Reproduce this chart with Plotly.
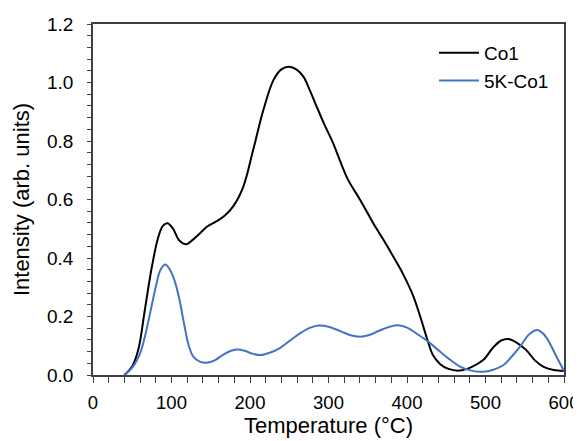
import plotly.graph_objects as go

co1_t = [40, 50, 58, 66, 75, 83, 89, 95, 102, 110, 118.5, 127, 136, 145, 157, 168, 179, 191.5, 204,
         217, 230, 240, 250, 259, 268, 276, 285, 295, 306, 315, 325, 340, 357, 370, 382.5, 395, 408,
         418, 426, 433, 442, 452, 467, 482, 497, 510, 520, 529, 540, 552, 563, 574, 587, 600]
co1_v = [0.0, 0.03, 0.09, 0.222, 0.37, 0.47, 0.51, 0.519, 0.50, 0.46, 0.447, 0.462, 0.484, 0.507,
         0.525, 0.545, 0.578, 0.644, 0.769, 0.906, 1.009, 1.045, 1.054, 1.045, 1.02, 0.975, 0.917,
         0.855, 0.792, 0.73, 0.667, 0.60, 0.519, 0.462, 0.405, 0.345, 0.27, 0.19, 0.12, 0.068, 0.038,
         0.022, 0.015, 0.027, 0.051, 0.095, 0.118, 0.123, 0.11, 0.085, 0.05, 0.028, 0.017, 0.014]

k5_t = [40, 50, 60, 66, 73, 80, 86, 92, 98, 104, 110, 116, 122, 128, 136, 145, 155, 165, 175, 183,
        193, 203, 213, 225, 238, 251, 264, 277, 288, 300, 315, 328, 340, 352, 365, 378, 389, 400, 412,
        427, 442, 455, 467.5, 482, 497, 510, 523, 534, 544, 556, 566, 574, 582, 590, 600]
k5_v = [0.0, 0.025, 0.074, 0.13, 0.215, 0.302, 0.36, 0.378, 0.36, 0.322, 0.26, 0.175, 0.10, 0.062,
        0.046, 0.042, 0.05, 0.068, 0.082, 0.087, 0.083, 0.073, 0.068, 0.076, 0.092, 0.118, 0.143,
        0.162, 0.169, 0.165, 0.15, 0.136, 0.131, 0.137, 0.152, 0.165, 0.17, 0.162, 0.142, 0.114,
        0.08, 0.052, 0.029, 0.015, 0.011, 0.018, 0.034, 0.065, 0.097, 0.14, 0.154, 0.14, 0.108,
        0.065, 0.014]

x_ticks = [0, 100, 200, 300, 400, 500, 600]
y_ticks = [0.0, 0.2, 0.4, 0.6, 0.8, 1.0, 1.2]

FONT = "Liberation Sans, Arial, sans-serif"
AX = "#404040"

fig = go.Figure()
fig.add_trace(go.Scatter(x=co1_t, y=co1_v, mode="lines", name="Co1",
                         line=dict(color="black", width=2, shape="spline", smoothing=1.0)))
fig.add_trace(go.Scatter(x=k5_t, y=k5_v, mode="lines", name="5K-Co1",
                         line=dict(color="#4472C4", width=2, shape="spline", smoothing=1.0)))

# the page body keeps its default 8px margin, so the figure is 8px smaller and margins shifted
fig.update_layout(
    width=573, height=433,
    margin=dict(l=85, r=17, t=16, b=66),
    paper_bgcolor="white", plot_bgcolor="white",
    font=dict(family=FONT, size=19, color="black"),
    showlegend=True,
    legend=dict(x=0.724, y=0.972, xanchor="left", yanchor="top", bgcolor="rgba(0,0,0,0)",
                font=dict(size=19), tracegroupgap=0, itemwidth=40),
    xaxis=dict(range=[0, 600], tickvals=x_ticks, ticktext=[str(v) for v in x_ticks],
               showgrid=False, zeroline=False, showline=True, linecolor=AX, linewidth=1.5,
               mirror=True, ticks="outside", ticklen=6, tickcolor=AX, automargin=False,
               minor=dict(dtick=20, ticks="outside", ticklen=6, tickcolor=AX),
               ticklabelstandoff=4,
               title=dict(text="Temperature (°C)", font=dict(size=22), standoff=6),
               tickfont=dict(size=18.5)),
    yaxis=dict(range=[0, 1.2], tickvals=y_ticks, ticktext=[f"{v:.1f}" for v in y_ticks],
               showgrid=False, zeroline=False, showline=True, linecolor=AX, linewidth=1.5,
               mirror=True, ticks="outside", ticklen=4, tickcolor=AX, automargin=False,
               minor=dict(dtick=0.04, tick0=0, ticks="outside", ticklen=4, tickcolor=AX),
               ticklabelstandoff=10,
               title=dict(text="Intensity (arb. units)", font=dict(size=22), standoff=11),
               tickfont=dict(size=19)),
)

fig.write_html("out.html")
